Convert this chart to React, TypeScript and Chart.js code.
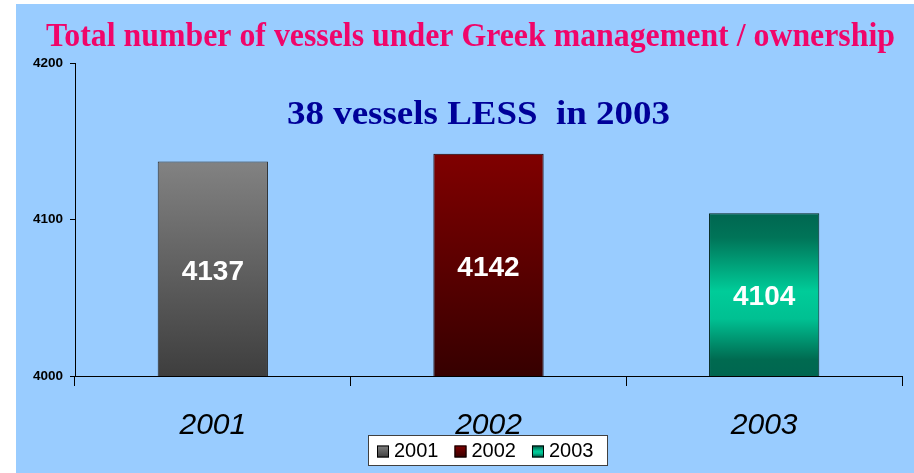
import React, { useEffect, useRef } from 'react';
import { Chart, registerables } from 'chart.js';

Chart.register(...registerables);

const categories = ['2001', '2002', '2003'];
const vessels = [4137, 4142, 4104];
const yTicks = [4000, 4100, 4200];
const legendLabels = ['2001', '2002', '2003'];
const titleText = 'Total number of vessels under Greek management / ownership';
const subtitleText = '38 vessels LESS  in 2003';

const barStops: [number, string][][] = [
  [[0, '#828282'], [1, '#3e3e3e']],
  [[0, '#800000'], [1, '#360000']],
  [[0, '#006650'], [0.15, '#007458'], [0.48, '#00CC99'], [0.65, '#00C092'], [0.9, '#006A50'], [1, '#006650']],
];
const solidColors = ['#606060', '#600000', '#00B080'];
const borderColors = ['#2a2a2a', '#1a0000', '#00241c'];

const SANS = '"Liberation Sans", Arial, sans-serif';
const SERIF = '"Liberation Serif", "Times New Roman", serif';

function fitText(ctx: CanvasRenderingContext2D, text: string, cx: number, baseline: number, width: number, font: string, color: string) {
  ctx.save();
  ctx.font = font;
  ctx.fillStyle = color;
  const w = ctx.measureText(text).width;
  const s = width / w;
  ctx.translate(cx, baseline);
  ctx.scale(s, 1);
  ctx.textAlign = 'center';
  ctx.textBaseline = 'alphabetic';
  ctx.fillText(text, 0, 0);
  ctx.restore();
}

const decorPlugin = {
  id: 'decor',
  afterDraw(chart: any) {
    const ctx = chart.ctx as CanvasRenderingContext2D;
    const xs = chart.scales.x;
    const ys = chart.scales.y;

    // value labels inside bars
    ctx.save();
    ctx.font = `bold 28px ${SANS}`;
    ctx.fillStyle = '#ffffff';
    ctx.textAlign = 'center';
    ctx.textBaseline = 'middle';
    const vals = chart.data.datasets[0].data as number[];
    vals.forEach((v: number, i: number) => {
      const px = xs.getPixelForValue(i);
      const top = ys.getPixelForValue(v);
      const base = ys.getPixelForValue(ys.min);
      ctx.fillText(String(v), px, (top + base) / 2 + 3);
    });
    ctx.restore();

    fitText(ctx, titleText, 454.5, 42, 849, `bold 33px ${SERIF}`, '#F0056A');
    fitText(ctx, subtitleText, 462.5, 120, 383, `bold 33px ${SERIF}`, '#000099');

    // legend box
    const bx = 352, by = 431, bw = 240, bh = 31;
    ctx.save();
    ctx.fillStyle = '#ffffff';
    ctx.fillRect(bx, by, bw, bh);
    ctx.strokeStyle = '#404040';
    ctx.lineWidth = 1;
    ctx.strokeRect(bx + 0.5, by + 0.5, bw - 1, bh - 1);
    ctx.font = `20px ${SANS}`;
    ctx.textBaseline = 'middle';
    ctx.textAlign = 'left';
    let x = bx + 9;
    const cy = by + bh / 2 + 1;
    legendLabels.forEach((lab, i) => {
      const g = ctx.createLinearGradient(0, cy - 6, 0, cy + 6);
      barStops[i].forEach(([o, c]) => g.addColorStop(o, c));
      ctx.fillStyle = g;
      ctx.fillRect(x, cy - 6, 12, 12);
      ctx.strokeStyle = '#000000';
      ctx.strokeRect(x + 0.5, cy - 5.5, 11, 11);
      ctx.fillStyle = '#000000';
      ctx.fillText(lab, x + 17, cy);
      x += 17 + ctx.measureText(lab).width + 16;
    });
    ctx.restore();
  },
};

export default function App() {
  const ref = useRef<HTMLCanvasElement | null>(null);

  useEffect(() => {
    if (!ref.current) return;
    const chart = new Chart(ref.current, {
      type: 'bar',
      data: {
        labels: categories,
        datasets: [
          {
            label: 'Vessels',
            data: vessels,
            backgroundColor: (c: any) => {
              const i = c.dataIndex;
              const ch = c.chart;
              const area = ch.chartArea;
              if (!area || c.type !== 'data' || !ch.scales.y) return solidColors[i] || '#888';
              const top = ch.scales.y.getPixelForValue(c.raw);
              const g = ch.ctx.createLinearGradient(0, top, 0, area.bottom);
              barStops[i].forEach(([o, col]) => g.addColorStop(o, col));
              return g;
            },
            borderColor: borderColors,
            borderWidth: 1,
            borderSkipped: false,
            categoryPercentage: 1,
            barPercentage: 0.4,
          },
        ],
      },
      options: {
        responsive: false,
        animation: false,
        layout: { padding: { top: 59, left: 0, right: 12, bottom: 0 } },
        plugins: {
          legend: { display: false },
          title: { display: false },
          tooltip: { enabled: false },
        },
        scales: {
          x: {
            type: 'category',
            offset: true,
            afterFit: (s: any) => { s.height = 97; },
            grid: {
              offset: true,
              drawOnChartArea: false,
              drawTicks: true,
              tickLength: 10,
              color: '#000000',
              lineWidth: 1,
            },
            border: { display: true, color: '#000000', width: 1 },
            ticks: {
              color: '#000000',
              font: { family: SANS, size: 30, style: 'italic' },
              padding: 22,
              maxRotation: 0,
            },
          },
          y: {
            min: 4000,
            max: 4200,
            afterFit: (s: any) => { s.width = 59; },
            afterBuildTicks: (s: any) => { s.ticks = yTicks.map((v) => ({ value: v })); },
            grid: {
              drawOnChartArea: false,
              drawTicks: true,
              tickLength: 5,
              color: '#000000',
            },
            border: { display: true, color: '#000000', width: 1 },
            ticks: {
              color: '#000000',
              font: { family: SANS, size: 13.5, weight: 'bold' },
              padding: 7,
              callback: (v: any) => String(v),
            },
          },
        },
      } as any,
      plugins: [decorPlugin],
    });
    return () => chart.destroy();
  }, []);

  return (
    <div style={{ position: 'fixed', left: 0, top: 0, width: 914, height: 473, background: '#ffffff', overflow: 'hidden' }}>
      <div style={{ position: 'absolute', left: 16, top: 4, width: 898, height: 469, background: '#99CCFF' }}>
        <canvas ref={ref} width={898} height={469} style={{ display: 'block', width: 898, height: 469 }} />
      </div>
    </div>
  );
}
